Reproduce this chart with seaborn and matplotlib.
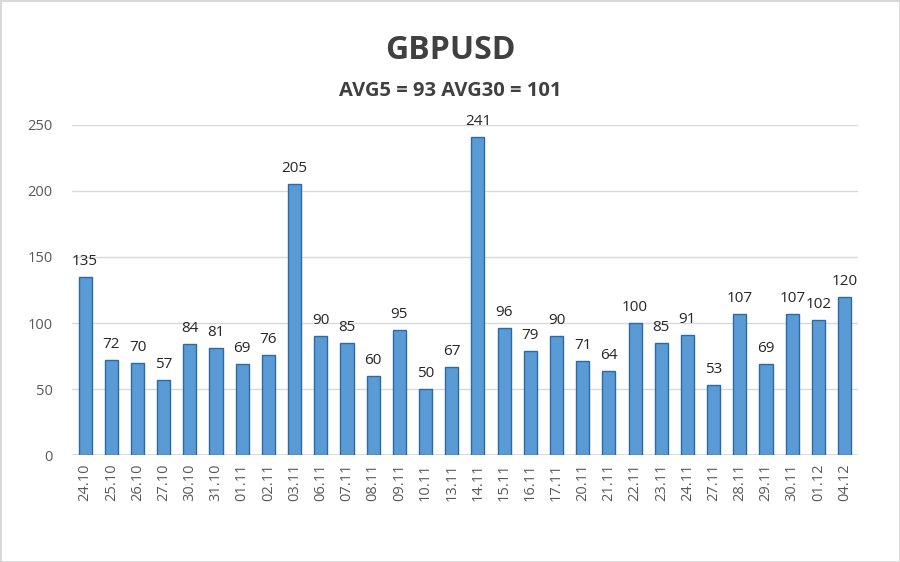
import pandas as pd
import seaborn as sns
import matplotlib.pyplot as plt

dates = ["24.10", "25.10", "26.10", "27.10", "30.10", "31.10", "01.11", "02.11",
         "03.11", "06.11", "07.11", "08.11", "09.11", "10.11", "13.11", "14.11",
         "15.11", "16.11", "17.11", "20.11", "21.11", "22.11", "23.11", "24.11",
         "27.11", "28.11", "29.11", "30.11", "01.12", "04.12"]
values = [135, 72, 70, 57, 84, 81, 69, 76, 205, 90, 85, 60, 95, 50, 67, 241,
          96, 79, 90, 71, 64, 100, 85, 91, 53, 107, 69, 107, 102, 120]
yticks = [0, 50, 100, 150, 200, 250]
title = "GBPUSD"
subtitle = "AVG5 = 93 AVG30 = 101"

df = pd.DataFrame({"date": dates, "value": values})

sns.set_theme(style="white")
plt.rcParams['font.family'] = ['Open Sans', 'DejaVu Sans']

fig = plt.figure(figsize=(9, 5.62), dpi=100)
fig.patch.set_edgecolor("#d9d9d9")
fig.patch.set_linewidth(2)
ax = fig.add_axes([0.08, 0.19, 0.873, 0.588])

sns.barplot(data=df, x="date", y="value", ax=ax, color="#5b9bd5",
            edgecolor="#2c6aa3", linewidth=1.0, width=0.5, saturation=1)

for i, v in enumerate(values):
    ax.text(i, v + 6, str(v), ha="center", va="bottom", fontsize=11,
            color="#262626", clip_on=False)

ax.set_ylim(0, 250)
ax.set_xlim(-0.5, len(dates) - 0.5)
ax.set_yticks(yticks)
ax.yaxis.grid(True, color="#d9d9d9", linewidth=1)
ax.set_axisbelow(True)
for s in ax.spines.values():
    s.set_visible(False)
ax.axhline(0, color="#d9d9d9", linewidth=1.2, zorder=0)
ax.set_xlabel("")
ax.set_ylabel("")
ax.tick_params(axis="x", rotation=90, labelsize=10.5, colors="#595959", length=0, pad=6)
ax.tick_params(axis="y", labelsize=10.5, colors="#595959", length=0, pad=14)

fig.text(0.5, 0.91, title, ha="center", va="center", fontsize=23,
         fontweight="bold", color="#404040")
fig.text(0.5, 0.838, subtitle, ha="center", va="center", fontsize=14.5,
         fontweight="bold", color="#404040")

fig.savefig("out.png", dpi=100, edgecolor=fig.get_edgecolor())
